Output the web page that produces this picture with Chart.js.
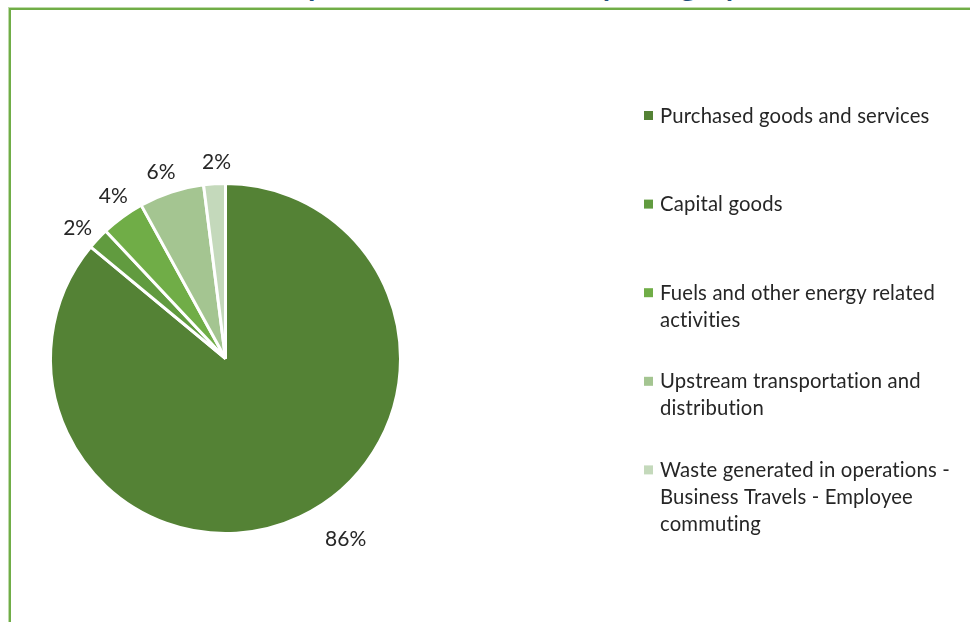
<!DOCTYPE html>
<html>
<head>
<meta charset="utf-8">
<title>Scope 3 GHG emissions by category</title>
<script src="https://cdn.jsdelivr.net/npm/chart.js@4.4.1/dist/chart.umd.min.js"></script>
<style>
  html, body { margin: 0; padding: 0; background: #fff; overflow: hidden; width: 970px; height: 622px; }
  #wrap { position: relative; width: 970px; height: 622px; overflow: hidden; }
  #frame {
    position: absolute; left: 9px; top: 8px; width: 1000px; height: 700px;
    border-left: 2px solid #70AD47; border-top: 2px solid #70AD47;
    box-shadow: -1px -1px 0 #bedba9;
  }
  #title {
    position: absolute; left: 0; top: -31px; width: 1000px; text-align: center;
    font: bold 30px Lato, sans-serif; line-height: 30px; color: #1F4E79; white-space: nowrap;
  }
  canvas { position: absolute; left: 0; top: 0; }
</style>
</head>
<body>
<div id="wrap">
  <div id="frame"></div>
  <div id="title">Scope 3 GHG emissions by category</div>
  <canvas id="chart" width="970" height="622"></canvas>
</div>
<script>
// Categories (multi-line legend entries) and their share of scope 3 emissions, in %
const categories = [
  ["Purchased goods and services"],
  ["Capital goods"],
  ["Fuels and other energy related", "activities"],
  ["Upstream transportation and", "distribution"],
  ["Waste generated in operations -", "Business Travels - Employee", "commuting"]
];
const shares = [86, 2, 4, 6, 2];
const sliceColors = ["#548235", "#619B3F", "#70AD47", "#A4C591", "#C4D9BB"];

// Percentage labels just outside each slice
const sliceLabels = {
  id: "sliceLabels",
  afterDatasetsDraw(chart, args, o) {
    const ctx = chart.ctx;
    const meta = chart.getDatasetMeta(0);
    const data = chart.data.datasets[0].data;
    const total = data.reduce((a, b) => a + b, 0);
    ctx.save();
    ctx.font = o.font;
    ctx.fillStyle = o.color;
    ctx.textAlign = "center";
    ctx.textBaseline = "alphabetic";
    meta.data.forEach((arc, i) => {
      const p = arc.getProps(["x", "y", "startAngle", "endAngle", "outerRadius"], true);
      const a = (p.startAngle + p.endAngle) / 2 + (o.angleShift[i] || 0) * Math.PI / 180;
      const d = p.outerRadius + o.offset + (o.extra[i] || 0);
      const tx = p.x + Math.cos(a) * d;
      const ty = p.y + Math.sin(a) * d;
      ctx.fillText(Math.round(data[i] / total * 100) + "%", tx, ty + o.baselineShift);
    });
    ctx.restore();
  }
};

// Legend on the right: square marker plus wrapped category text
const sideLegend = {
  id: "sideLegend",
  afterDraw(chart, args, o) {
    const ctx = chart.ctx;
    const colors = chart.data.datasets[0].backgroundColor;
    ctx.save();
    ctx.font = o.font;
    ctx.letterSpacing = o.letterSpacing; // also keeps "ti" from forming a ligature
    ctx.textAlign = "left";
    ctx.textBaseline = "alphabetic";
    chart.data.labels.forEach((lines, i) => {
      const y0 = o.top + i * o.step;
      ctx.fillStyle = colors[i];
      ctx.fillRect(o.x, y0 - o.box / 2, o.box, o.box);
      ctx.fillStyle = o.color;
      lines.forEach((t, j) => ctx.fillText(t, o.x + o.textGap, y0 + o.baselineShift + j * o.lineHeight));
    });
    ctx.restore();
  }
};

new Chart(document.getElementById("chart"), {
  type: "pie",
  data: {
    labels: categories,
    datasets: [{
      data: shares,
      backgroundColor: sliceColors,
      borderColor: "#ffffff",
      borderWidth: 3,
      radius: 175
    }]
  },
  options: {
    responsive: false,
    animation: false,
    layout: { padding: { left: 49, top: 182, right: 568, bottom: 87 } },
    plugins: {
      legend: { display: false },
      tooltip: { enabled: false },
      sliceLabels: {
        font: "21px Lato, sans-serif",
        color: "#262626",
        offset: 23,
        baselineShift: 8,
        angleShift: [-8.6, -1.5, 1.5, -1, 1],
        extra: [18, 0, 0, 0, 0]
      },
      sideLegend: {
        font: "20.3px Lato, sans-serif",
        letterSpacing: "0.15px",
        color: "#262626",
        x: 644,
        top: 115.5,
        step: 88.6,
        box: 9,
        textGap: 16,
        lineHeight: 27,
        baselineShift: 7
      }
    }
  },
  plugins: [sliceLabels, sideLegend]
});
</script>
</body>
</html>
